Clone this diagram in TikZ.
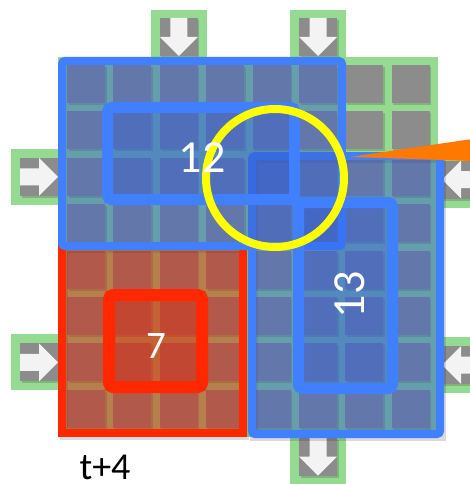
\documentclass[tikz,border=0pt]{standalone}
\usepackage{fontspec}
\setmainfont{Carlito}
\definecolor{gridgreen}{RGB}{148,218,145}
\definecolor{tilegray}{RGB}{140,140,140}
\definecolor{arrowwhite}{RGB}{243,243,243}
\definecolor{bborder}{RGB}{64,128,255}
\definecolor{bfill}{RGB}{60,100,200}
\definecolor{binner}{RGB}{40,90,225}
\definecolor{rborder}{RGB}{255,40,0}
\definecolor{rfill}{RGB}{215,40,10}
\definecolor{rinner}{RGB}{235,30,0}
\definecolor{ringyellow}{RGB}{255,255,0}
\definecolor{wedgeorange}{RGB}{255,120,0}
\begin{document}
\begin{tikzpicture}[x=1pt,y=-1pt,
  tileshadow/.style={fill=black,opacity=0.16},
  tilebox/.style={fill=tilegray},
  portbox/.style={fill=gridgreen},
  arrowshape/.style={fill=arrowwhite},
  blueouter/.style={draw=bborder,line width=8pt,fill=bfill,fill opacity=0.5,rounded corners=3pt},
  blueinner/.style={draw=bborder,line width=11pt,fill=binner,fill opacity=0.3,rounded corners=4pt},
  redouter/.style={draw=rborder,line width=8pt,fill=rfill,fill opacity=0.5},
  redinner/.style={draw=rborder,line width=12pt,fill=rinner,fill opacity=0.3,rounded corners=4pt},
  rectshadow/.style={draw=black,draw opacity=0.14,line width=8pt},
  numlabel/.style={text=white,inner sep=0pt,font=\fontsize{46}{46}\selectfont},
  pics/downport/.style={code={
    \fill[tileshadow] (1.5,2) rectangle (39.5,40);
    \fill[tilebox] (0,0) rectangle (38,38);
    \fill[arrowshape] (10.5,0) -- (27.5,0) -- (27.5,19) -- (38,19) -- (19,38) -- (0,19) -- (10.5,19) -- cycle;}},
  pics/rightport/.style={code={
    \fill[tileshadow] (1.5,2) rectangle (39.5,40);
    \fill[tilebox] (0,0) rectangle (38,38);
    \fill[arrowshape] (0,10.5) -- (19,10.5) -- (19,0) -- (38,19) -- (19,38) -- (19,27.5) -- (0,27.5) -- cycle;}},
  pics/leftport/.style={code={
    \fill[tileshadow] (1.5,2) rectangle (39.5,40);
    \fill[tilebox] (0,0) rectangle (38,38);
    \fill[arrowshape] (38,10.5) -- (19,10.5) -- (19,0) -- (0,19) -- (19,38) -- (19,27.5) -- (38,27.5) -- cycle;}},
]
\useasboundingbox (0,0) rectangle (470,484);
\fill[white] (0,0) rectangle (470,484);

% port boxes (green frames)
\fill[portbox] (150.8,10) rectangle (206.8,58);
\fill[portbox] (290,10) rectangle (346,58);
\fill[portbox] (11,148.8) rectangle (59,204.8);
\fill[portbox] (11,334.4) rectangle (59,390.4);
\fill[portbox] (437,151.5) rectangle (490,207.5);
\fill[portbox] (437,337) rectangle (490,393);
\fill[portbox] (290,436) rectangle (346,490);

% ports
\pic at (159.8,18) {downport};
\pic at (299,18) {downport};
\pic at (20,157.8) {rightport};
\pic at (20,343.4) {rightport};
\pic at (442,160.5) {leftport};
\pic at (442,346) {leftport};
\pic at (299,437.5) {downport};

% grid
\fill[gridgreen] (58,57) rectangle (438,437);
\foreach \i in {0,...,7} {
  \foreach \j in {0,...,7} {
    \fill[tileshadow] (67+46.4*\i+1.5,65+46.4*\j+2) rectangle ++(38,38);
    \fill[tilebox] (67+46.4*\i,65+46.4*\j) rectangle ++(38,38);
  }
}

% shadows of the regions
\draw[rectshadow] (63.5,249) rectangle (244.5,436);
\draw[rectshadow] (253.5,159) rectangle (441.5,437);

% red region 7
\draw[redouter] (62,246) rectangle (243,433);
\draw[redinner] (109,295) rectangle (202,387);

% blue region 13
\draw[blueouter] (252,156) rectangle (440,434);

% blue region 12
\draw[blueouter] (62,61) rectangle (342,246);
\draw[blueinner] (107.5,107.5) rectangle (294.5,199.5);

% inner 13
\draw[blueinner] (298.5,202.5) rectangle (392.5,388.5);

% highlight
\fill[wedgeorange] (350,157) -- (472,139) -- (472,161) -- cycle;
\draw[ringyellow,line width=8pt] (275,178) circle[radius=69pt];

% labels
\node[numlabel] (twelve) at (202,158) {12};
\node[numlabel,rotate=90] (thirteen) at (350,295) {13};
\node[numlabel,font=\fontsize{39}{39}\selectfont] (seven) at (156,346) {7};
\node[inner sep=0pt,font=\fontsize{38}{38}\selectfont] (time) at (105,467) {t+4};
\end{tikzpicture}
\end{document}
